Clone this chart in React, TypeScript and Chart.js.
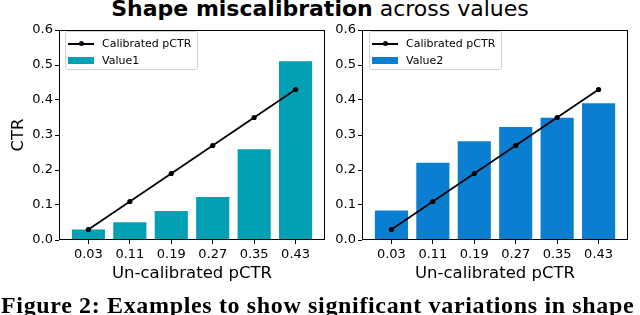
import React, { useEffect, useRef } from "react";
import { Chart, registerables } from "chart.js";

Chart.register(...registerables);

const xLabels = ["0.03", "0.11", "0.19", "0.27", "0.35", "0.43"];
const calibrated = [0.03, 0.11, 0.19, 0.27, 0.35, 0.43];
const value1 = [0.03, 0.051, 0.083, 0.123, 0.259, 0.511];
const value2 = [0.084, 0.221, 0.282, 0.323, 0.349, 0.391];
const yTicks = [0, 0.1, 0.2, 0.3, 0.4, 0.5, 0.6];

const color1 = "#02A0B5";
const color2 = "#0A7FD2";
const FONT = "DejaVu Sans";

const boxPlugin = {
  id: "boxFrame",
  afterDatasetsDraw(chart: any) {
    const { ctx, chartArea: a } = chart;
    ctx.save();
    ctx.strokeStyle = "#000";
    ctx.lineWidth = 1;
    const l = Math.round(a.left) + 0.5;
    const t = Math.round(a.top) + 0.5;
    const r = Math.round(a.right) - 0.5;
    const b = Math.round(a.bottom) - 0.5;
    ctx.strokeRect(l, t, r - l, b - t);
    ctx.restore();
  },
};

function makeConfig(values: number[], color: string, label: string, showYTitle: boolean, yWidth: number, padRight: number, height: number): any {
  return {
    type: "bar",
    data: {
      datasets: [
        {
          type: "line",
          label: "Calibrated pCTR",
          data: calibrated.map((v, i) => ({ x: i, y: v })),
          borderColor: "#000",
          backgroundColor: "#000",
          borderWidth: 1.75,
          pointRadius: 2.6,
          pointBorderWidth: 0,
          pointBackgroundColor: "#000",
          tension: 0,
          order: 0,
        },
        {
          type: "bar",
          label,
          data: values.map((v, i) => ({ x: i, y: v })),
          backgroundColor: color,
          borderWidth: 0,
          barPercentage: 0.8,
          categoryPercentage: 1,
          order: 1,
        },
      ],
    },
    options: {
      responsive: false,
      animation: false,
      layout: { padding: { top: 30, left: 0, right: padRight, bottom: 0 } },
      plugins: { legend: { display: false }, title: { display: false }, tooltip: { enabled: false } },
      scales: {
        x: {
          type: "linear",
          min: -0.71,
          max: 5.71,
          offset: false,
          afterBuildTicks: (scale: any) => {
            scale.ticks = xLabels.map((_, i) => ({ value: i }));
          },
          afterFit: (scale: any) => {
            scale.height = height - 240;
          },
          ticks: {
            autoSkip: false,
            maxRotation: 0,
            padding: 3,
            color: "#000",
            font: { family: FONT, size: 13 },
            callback: (_v: any, i: number) => xLabels[i],
          },
          grid: { display: true, offset: false, drawOnChartArea: false, drawTicks: true, tickLength: 4, tickColor: "#000", lineWidth: 1 },
          border: { display: false },
          title: {
            display: true,
            text: "Un-calibrated pCTR",
            color: "#000",
            font: { family: FONT, size: 16.5 },
            padding: { top: 0, bottom: height - 240 - 44 },
          },
        },
        y: {
          type: "linear",
          min: 0,
          max: 0.6,
          afterBuildTicks: (scale: any) => {
            scale.ticks = yTicks.map((v) => ({ value: v }));
          },
          afterFit: (scale: any) => {
            scale.width = yWidth;
          },
          ticks: {
            padding: 2,
            color: "#000",
            font: { family: FONT, size: 13 },
            callback: (v: any) => Number(v).toFixed(1),
          },
          grid: { display: true, offset: false, drawOnChartArea: false, drawTicks: true, tickLength: 4, tickColor: "#000", lineWidth: 1 },
          border: { display: false },
          title: {
            display: showYTitle,
            text: "CTR",
            color: "#000",
            font: { family: FONT, size: 16.5 },
            padding: { top: 9, bottom: 0 },
          },
        },
      },
    },
    plugins: [boxPlugin],
  };
}

function Panel(props: { left: number; width: number; height: number; values: number[]; color: string; label: string; yTitle: boolean; yWidth: number; padRight: number }) {
  const ref = useRef<HTMLCanvasElement>(null);
  useEffect(() => {
    if (!ref.current) return;
    const chart = new Chart(ref.current, makeConfig(props.values, props.color, props.label, props.yTitle, props.yWidth, props.padRight, props.height));
    return () => chart.destroy();
  }, []);
  return (
    <canvas
      ref={ref}
      width={props.width}
      height={props.height}
      style={{ position: "absolute", left: props.left, top: 0, width: props.width, height: props.height, display: "block" }}
    />
  );
}

function Legend(props: { left: number; top: number; color: string; label: string }) {
  return (
    <div
      style={{
        position: "absolute",
        left: props.left,
        top: props.top,
        width: 133,
        height: 39,
        boxSizing: "border-box",
        border: "1px solid #d2d2d2",
        borderRadius: 3,
        background: "rgba(255,255,255,0.85)",
        fontFamily: FONT,
        fontSize: 11,
        color: "#000",
      }}
    >
      <div style={{ position: "absolute", left: 2, top: 3.7, height: 16, display: "flex", alignItems: "center" }}>
        <div style={{ position: "relative", width: 26, height: 16 }}>
          <div style={{ position: "absolute", left: 0, width: 26, top: 7.1, height: 1.75, background: "#000" }} />
          <div style={{ position: "absolute", left: 10.5, top: 5.5, width: 5, height: 5, borderRadius: "50%", background: "#000" }} />
        </div>
        <span style={{ marginLeft: 8, lineHeight: "16px", whiteSpace: "nowrap" }}>Calibrated pCTR</span>
      </div>
      <div style={{ position: "absolute", left: 2, top: 20.5, height: 16, display: "flex", alignItems: "center" }}>
        <div style={{ width: 26, height: 7, background: props.color }} />
        <span style={{ marginLeft: 8, lineHeight: "16px", whiteSpace: "nowrap" }}>{props.label}</span>
      </div>
    </div>
  );
}

export default function App() {
  return (
    <div style={{ position: "absolute", left: 0, top: 0, width: 640, height: 315, overflow: "hidden", background: "#fff" }}>
      <div
        style={{
          position: "absolute",
          left: 0,
          top: -2,
          width: 640,
          textAlign: "center",
          fontFamily: FONT,
          fontSize: 22,
          lineHeight: "22px",
          whiteSpace: "nowrap",
          color: "#000",
        }}
      >
        <span style={{ fontWeight: "bold" }}>Shape miscalibration</span> across values
      </div>
      <Panel left={0} width={335} height={300} values={value1} color={color1} label="Value1" yTitle={true} yWidth={59} padRight={10} />
      <Panel left={335} width={305} height={300} values={value2} color={color2} label="Value2" yTitle={false} yWidth={27} padRight={12} />
      <Legend left={65} top={31} color={color1} label="Value1" />
      <Legend left={369} top={31} color={color2} label="Value2" />
      <div
        style={{
          position: "absolute",
          left: 1,
          top: 293,
          fontFamily: "Liberation Serif",
          fontWeight: "bold",
          fontSize: 24,
          lineHeight: "24px",
          letterSpacing: "0.65px",
          whiteSpace: "nowrap",
          color: "#000",
        }}
      >
        Figure 2: Examples to show significant variations in shape
      </div>
    </div>
  );
}
